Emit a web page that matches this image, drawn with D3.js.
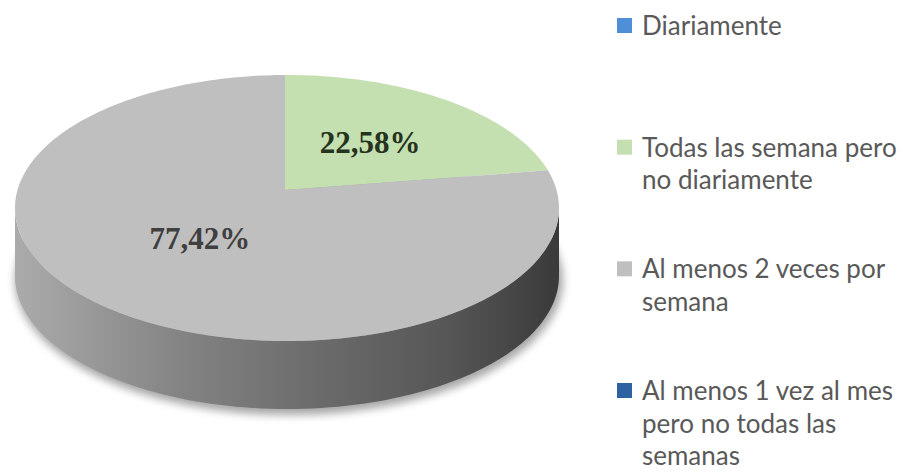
<!DOCTYPE html>
<html>
<head>
<meta charset="utf-8">
<script src="https://cdn.jsdelivr.net/npm/d3@7"></script>
<style>
  body { margin: 0; background: #fff; }
  svg { display: block; }
</style>
</head>
<body>
<svg width="903" height="472"></svg>
<script>
var categories = ['Diariamente', 'Todas las semana pero no diariamente', 'Al menos 2 veces por semana', 'Al menos 1 vez al mes pero no todas las semanas'];
var legendLines = [['Diariamente'], ['Todas las semana pero', 'no diariamente'], ['Al menos 2 veces por', 'semana'], ['Al menos 1 vez al mes', 'pero no todas las', 'semanas']];
var values = [0, 22.58, 77.42, 0];
var colors = ['#4f8fd8', '#c4dfb0', '#bfbfbf', '#2e62a0'];
var labelColors = ['#222', '#25331f', '#3f3f3f', '#222'];

var width = 903, height = 472;
// ellipse of the top face
var cx = 287, cy = 208, rx = 272, ry = 133, depth = 68;
// apex of the slices (perspective puts it above the ellipse centre)
var px = 285, py = 190;

var svg = d3.select('svg');
var defs = svg.append('defs');

var grad = defs.append('linearGradient')
    .attr('id', 'side')
    .attr('gradientUnits', 'userSpaceOnUse')
    .attr('x1', cx - rx).attr('x2', cx + rx)
    .attr('y1', 0).attr('y2', 0);
[[0, '#ababab'], [0.3, '#848484'], [0.55, '#6c6c6c'], [0.8, '#565656'], [1, '#3a3a3a']].forEach(function(s){
    grad.append('stop').attr('offset', s[0]).attr('stop-color', s[1]);
});

defs.append('filter').attr('id', 'blur')
    .attr('x', '-10%').attr('y', '-10%').attr('width', '120%').attr('height', '130%')
    .append('feGaussianBlur').attr('stdDeviation', 4);

var pie = d3.pie().sort(null).value(d => d);
var arcs = pie(values);

var fmt = d3.formatLocale({decimal: ',', thousands: '.', grouping: [3], currency: ['', '']}).format('.2f');

function rimPoint(theta){
    var u = (px - cx) / rx, v = (py - cy) / ry;
    var a = Math.sin(theta), b = -Math.cos(theta);
    var p = u * a + v * b;
    var t = -p + Math.sqrt(p * p - (u * u + v * v - 1));
    return [px + t * a * rx, py + t * b * ry];
}

function ellipsePoint(t, dy){
    return [cx + rx * Math.sin(t), cy - ry * Math.cos(t) + (dy || 0)];
}

var line = d3.line();

// shadow
svg.append('ellipse')
    .attr('cx', cx + 2).attr('cy', cy + depth + 4)
    .attr('rx', rx + 2).attr('ry', ry + 2)
    .attr('fill', '#000').attr('opacity', 0.35)
    .attr('filter', 'url(#blur)');

// side wall (front half)
var sidePts = [];
d3.range(0, 101).forEach(function(i){
    sidePts.push(ellipsePoint(Math.PI / 2 + Math.PI * i / 100, 0));
});
d3.range(100, -1, -1).forEach(function(i){
    sidePts.push(ellipsePoint(Math.PI / 2 + Math.PI * i / 100, depth));
});
svg.append('path')
    .attr('class', 'side')
    .attr('d', line(sidePts) + 'Z')
    .attr('fill', 'url(#side)');

// top faces
function slicePath(d){
    var pts = [[px, py]];
    var n = Math.max(2, Math.ceil((d.endAngle - d.startAngle) / 0.02));
    for(let i = 0; i <= n; i++){
        pts.push(rimPoint(d.startAngle + (d.endAngle - d.startAngle) * i / n));
    }
    return line(pts) + 'Z';
}

svg.selectAll('.slice')
    .data(arcs.filter(d => d.value > 0))
    .join('path')
    .attr('class', 'slice')
    .attr('d', slicePath)
    .attr('fill', d => colors[d.index]);

// value labels
svg.selectAll('.label')
    .data(arcs.filter(d => d.value > 0))
    .join('text')
    .attr('class', 'label')
    .attr('x', function(d){ var m = (d.startAngle + d.endAngle) / 2; return px + 0.48 * rx * Math.sin(m); })
    .attr('y', function(d){ var m = (d.startAngle + d.endAngle) / 2; return py - 0.48 * ry * Math.cos(m) + 11; })
    .attr('text-anchor', 'middle')
    .style('font-family', '"Liberation Serif", "Times New Roman", serif')
    .style('font-weight', 'bold')
    .style('font-size', '31px')
    .style('fill', d => labelColors[d.index])
    .text(d => fmt(d.value) + '%');

// legend
var legendY = d3.scalePoint().domain(categories).range([35, 400]);

var legend = svg.selectAll('.legend')
    .data(categories)
    .join('g')
    .attr('class', 'legend')
    .attr('transform', d => 'translate(617,' + legendY(d) + ')');

legend.append('rect')
    .attr('x', 0).attr('y', -17)
    .attr('width', 15).attr('height', 15)
    .attr('fill', (d, i) => colors[i]);

legend.append('text')
    .style('font-family', 'Lato, "Open Sans", sans-serif')
    .style('font-size', '26px')
    .style('fill', '#595959')
    .selectAll('tspan')
    .data((d, i) => legendLines[i])
    .join('tspan')
    .attr('x', 25)
    .attr('y', (d, j) => j * 32.5)
    .text(d => d);
</script>
</body>
</html>
